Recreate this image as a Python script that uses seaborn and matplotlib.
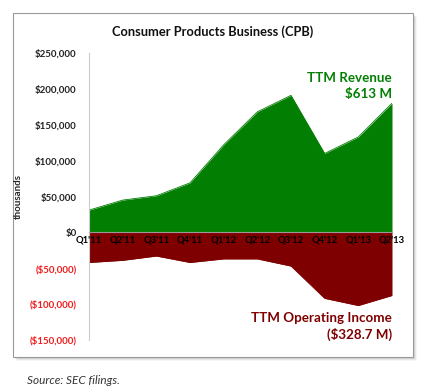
import matplotlib
matplotlib.use("Agg")
import matplotlib.pyplot as plt
import matplotlib.patches as mpatches
import seaborn as sns
import pandas as pd

quarters = ["Q1'11", "Q2'11", "Q3'11", "Q4'11", "Q1'12", "Q2'12", "Q3'12", "Q4'12", "Q1'13", "Q2'13"]
revenue = [31000, 45000, 51000, 69000, 122000, 168000, 191000, 110000, 133000, 180000]
op_income = [-42000, -39000, -33000, -42000, -37000, -37000, -47000, -92000, -102000, -88000]
y_ticks = [250000, 200000, 150000, 100000, 50000, 0, -50000, -100000, -150000]

GREEN = "#027f02"
DARKRED = "#7f0000"

sns.set_style("white")
plt.rcParams["font.family"] = ["Lato", "DejaVu Sans"]

df = pd.DataFrame({"q": range(len(quarters)), "revenue": revenue, "op_income": op_income})

fig = plt.figure(figsize=(4.27, 3.92), dpi=100)
W, H = 427, 392

# framed panel with a soft drop shadow
for i, a in enumerate([0.10, 0.08, 0.06, 0.04]):
    off = i + 1
    fig.patches.append(mpatches.Rectangle(((13 + off) / W, 1 - (357 + off) / H), 400 / W, 344 / H,
                                          transform=fig.transFigure, facecolor="black", alpha=a,
                                          edgecolor="none", zorder=0))
fig.patches.append(mpatches.Rectangle((13 / W, 1 - 357 / H), 400 / W, 344 / H,
                                      transform=fig.transFigure, facecolor="white",
                                      edgecolor="#9a9a9a", linewidth=0.8, zorder=1))

ax = fig.add_axes([89 / W, 1 - 340 / H, (392 - 89) / W, (340 - 53) / H])
ax.set_facecolor("none")
ax.set_zorder(2)
ax.set_axisbelow(False)

ax.fill_between(df["q"], 0, df["revenue"], color=GREEN, linewidth=0)
ax.fill_between(df["q"], 0, df["op_income"], color=DARKRED, linewidth=0)
sns.lineplot(data=df, x="q", y="revenue", color=GREEN, linewidth=0.6, ax=ax)
sns.lineplot(data=df, x="q", y="op_income", color=DARKRED, linewidth=0.6, ax=ax)

# spine position first: it resets the ticks
ax.spines["bottom"].set_position(("data", 0))
ax.spines["bottom"].set_color("#999999")
ax.spines["left"].set_color("#cccccc")
ax.spines["top"].set_visible(False)
ax.spines["right"].set_visible(False)

ax.set_xlim(0, len(quarters) - 1)
ax.set_ylim(-150000, 250000)
ax.set_yticks(y_ticks)
ylabels = []
for v in y_ticks:
    ylabels.append(f"${v:,.0f}" if v >= 0 else f"(${-v:,.0f})")
ax.set_yticklabels(ylabels, fontsize=7, fontweight="bold")
for lab, v in zip(ax.get_yticklabels(), y_ticks):
    lab.set_color("#ee1c1c" if v < 0 else "#222222")

ax.set_xticks(df["q"])
ax.set_xticklabels(quarters, fontsize=6.8, fontweight="bold", color="black")
ax.tick_params(axis="x", length=3, direction="in", color="#999999", pad=2)
ax.tick_params(axis="y", length=3, direction="out", color="#cccccc", pad=6)
ax.set_xlabel("")
ax.set_ylabel("thousands", fontsize=7, fontweight="bold", labelpad=5)

fig.text(213 / W, 1 - 32 / H, "Consumer Products Business (CPB)", ha="center", va="center",
         fontsize=9.3, fontweight="bold", color="#111111")

ax.text(1.0, 0.935, "TTM Revenue\n$613 M", transform=ax.transAxes, ha="right", va="top",
        fontsize=9.6, fontweight="bold", color=GREEN, linespacing=1.4)
ax.text(1.0, -0.005, "TTM Operating Income\n($328.7 M)", transform=ax.transAxes, ha="right",
        va="bottom", fontsize=9.6, fontweight="bold", color=DARKRED, linespacing=1.4)

fig.text(27 / W, 1 - 380 / H, "Source: SEC filings.", ha="left", va="center",
         fontsize=8.5, style="italic", color="#333333")

fig.savefig("out.png", dpi=100)
